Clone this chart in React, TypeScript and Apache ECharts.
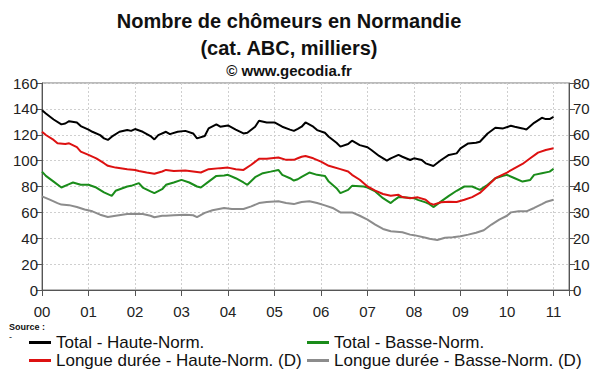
import React, { useEffect, useRef } from "react";
import * as echarts from "echarts";

// x = months since January 2000
const yearLabels = ["00", "01", "02", "03", "04", "05", "06", "07", "08", "09", "10", "11"];

const totalHaute: [number, number][] = [
  [0, 139], [1, 136.4], [3, 131.8], [5, 128], [6, 128.7], [7, 130.5], [9, 129.5], [10, 126.7], [12, 124],
  [13, 122.3], [15, 119.7], [16, 117.2], [17, 116], [18, 118.5], [20, 122.3], [22, 123.6], [23, 123],
  [24, 124.4], [26, 122.3], [28, 119], [29, 116.4], [30, 119.7], [32, 122.3], [33, 120.5], [35, 122.3],
  [37, 123], [39, 121], [40, 117.2], [42, 119], [43, 124.9], [45, 128], [46, 126.2], [48, 127.2], [50, 124],
  [52, 121], [53, 121.5], [55, 126.2], [56, 130.8], [58, 129.5], [60, 129.5], [62, 126.2], [64, 124],
  [65, 123], [66, 124.5], [67, 126.2], [68, 129.5], [70, 126.2], [71, 123.6], [73, 121.5], [74, 118.5],
  [76, 113.8], [77, 110.8], [79, 112.8], [80, 115.4], [82, 112], [84, 110.3], [85, 108.2], [87, 103.6],
  [89, 100], [90, 101.8], [92, 104.4], [93, 103], [95, 100.5], [96, 101.8], [98, 100.5], [99, 97.9],
  [101, 95.9], [103, 100.5], [105, 104.4], [107, 105.6], [108, 109.5], [110, 113.3], [112, 113.8],
  [113, 114.6], [115, 121], [117, 125.4], [119, 124.9], [121, 126.9], [122, 126.2], [124, 124.9],
  [125, 124], [127, 129.2], [129, 133.1], [130, 132.1], [131, 132.1], [132, 133.8],
];

const totalBasse: [number, number][] = [
  [0, 91.5], [1, 88.2], [3, 83.8], [5, 79.2], [7, 81.8], [8, 83.1], [10, 81.3], [12, 81.3], [14, 79.2],
  [16, 75.4], [18, 72.8], [19, 76.7], [22, 80], [23, 80.5], [25, 82.6], [26, 79.2], [28, 76.2], [29, 74.9],
  [31, 77.9], [32, 81.3], [34, 83.1], [36, 85.1], [38, 83.1], [40, 80], [41, 79.2], [43, 83.8], [45, 88.2],
  [47, 88.5], [48, 89], [50, 86.4], [52, 83.1], [53, 81.3], [55, 87.2], [57, 90.3], [59, 91.5], [61, 92.8],
  [62, 89], [64, 86.4], [65, 84.6], [66, 85.6], [67, 87.5], [69, 90.8], [71, 89], [73, 88.2], [74, 83.8],
  [76, 78.7], [77, 74.9], [79, 77.4], [80, 80.5], [83, 80], [84, 79.2], [86, 76.2], [88, 71], [90, 67.2],
  [91, 69.7], [92, 71.8], [94, 71.5], [96, 71], [97, 69.7], [99, 67.7], [100, 66.4], [101, 64.1],
  [103, 68.5], [105, 72.8], [107, 76.7], [109, 80], [111, 80], [113, 77.4], [115, 81.3], [117, 86.4],
  [119, 88.2], [120, 89], [122, 86.4], [124, 83.8], [126, 85.1], [127, 89], [129, 90.3], [131, 91.5],
  [132, 93.6],
];

// right axis (D)
const longueHaute: [number, number][] = [
  [0, 61.2], [1, 59.9], [3, 58], [4, 56.7], [6, 56.4], [7, 56.7], [9, 55.2], [10, 53.5], [12, 52.2],
  [14, 50.9], [16, 49], [17, 48], [19, 47.3], [22, 46.7], [24, 46.4], [25, 46], [27, 45.4], [29, 44.9],
  [31, 45.8], [32, 46.4], [34, 46], [37, 46.2], [39, 45.8], [41, 45.4], [43, 46.7], [46, 47.1], [48, 47.3],
  [50, 46.7], [52, 46.4], [54, 48.4], [56, 50.7], [58, 50.7], [61, 51.2], [63, 50.3], [65, 50.3],
  [66, 50.9], [67, 51.5], [68, 51.8], [70, 50.9], [72, 49.6], [74, 48], [77, 46.7], [79, 45.8], [80, 44.5],
  [82, 42.6], [84, 40], [86, 38.4], [88, 37.1], [90, 36.4], [92, 36.8], [93, 35.9], [95, 35.5], [97, 35.8],
  [99, 34.9], [100, 33.6], [101, 33], [103, 33.9], [105, 34.1], [107, 34], [109, 34.9], [111, 35.9],
  [113, 37.5], [115, 40.3], [117, 43.2], [120, 45.4], [122, 47.1], [124, 48.7], [126, 50.9], [128, 53.1],
  [130, 54.1], [132, 54.8],
];

const longueBasse: [number, number][] = [
  [0, 36.2], [2, 34.9], [4, 33.6], [5, 33], [7, 32.8], [9, 32.1], [11, 31.1], [13, 30.4], [15, 29.1],
  [17, 28.2], [19, 28.7], [22, 29.4], [24, 29.5], [26, 29.4], [28, 28.7], [29, 28.1], [31, 28.7],
  [32, 28.7], [34, 28.9], [37, 29.1], [39, 28.9], [40, 28.2], [42, 29.8], [44, 30.8], [47, 31.7],
  [49, 31.3], [52, 31.3], [54, 32.3], [56, 33.6], [58, 34], [61, 34.3], [63, 33.6], [65, 33.2], [66, 33.6],
  [67, 34], [69, 34.3], [71, 33.6], [73, 32.7], [75, 31.7], [77, 30], [80, 30], [82, 28.7], [84, 27.2],
  [86, 25.3], [88, 23.6], [90, 22.7], [93, 22.3], [95, 21.4], [96, 21.2], [99, 20.2], [100, 19.8],
  [102, 19.3], [104, 20.2], [106, 20.4], [108, 20.8], [110, 21.4], [112, 22.1], [114, 23.1], [116, 25.3],
  [118, 27.2], [120, 28.7], [121, 30], [123, 30.4], [125, 30.4], [127, 31.7], [129, 33.2], [130, 34],
  [132, 34.9],
];

const FONT = "'Liberation Sans', Arial, sans-serif";

export default function App() {
  const ref = useRef<HTMLDivElement>(null);
  useEffect(() => {
    if (!ref.current) return;
    const chart = echarts.init(ref.current, undefined, { renderer: "svg" });
    const legendBase = {
      padding: 0,
      icon: "rect",
      itemWidth: 22,
      itemHeight: 3,
      textStyle: { fontFamily: FONT, fontSize: 17, color: "#111" },
      selectedMode: false as const,
    };
    chart.setOption({
      animation: false,
      backgroundColor: "#ffffff",
      textStyle: { fontFamily: FONT },
      graphic: [
        { type: "text", x: 289, y: 21, style: { text: "Nombre de chômeurs en Normandie", font: `bold 20px ${FONT}`, fill: "#111", textAlign: "center", textVerticalAlign: "middle" } },
        { type: "text", x: 289, y: 48, style: { text: "(cat. ABC, milliers)", font: `bold 20px ${FONT}`, fill: "#111", textAlign: "center", textVerticalAlign: "middle" } },
        { type: "text", x: 289, y: 70, style: { text: "© www.gecodia.fr", font: `bold 15px ${FONT}`, fill: "#111", textAlign: "center", textVerticalAlign: "middle" } },
        { type: "text", x: 9, y: 327, style: { text: "Source :", font: `bold 9px ${FONT}`, fill: "#111", textVerticalAlign: "middle" } },
        { type: "text", x: 9, y: 337, style: { text: "-", font: `9px ${FONT}`, fill: "#111", textVerticalAlign: "middle" } },
      ],
      legend: [
        { ...legendBase, data: ["Total - Haute-Norm."], left: 29, top: 334 },
        { ...legendBase, data: ["Total - Basse-Norm."], left: 307, top: 334 },
        { ...legendBase, data: ["Longue durée - Haute-Norm. (D)"], left: 29, top: 352 },
        { ...legendBase, data: ["Longue durée - Basse-Norm. (D)"], left: 307, top: 352 },
      ],
      grid: {
        left: 42, right: 31, top: 83, bottom: 82,
        show: true, borderColor: "#777", borderWidth: 1, backgroundColor: "transparent",
      },
      xAxis: {
        type: "value", min: 0, max: 136, interval: 12,
        axisLine: { show: true, lineStyle: { color: "#555" } },
        axisTick: { show: true, length: 6, lineStyle: { color: "#555" } },
        axisLabel: {
          fontSize: 15, color: "#222", margin: 14,
          formatter: (v: number) => (v % 12 === 0 && v / 12 < yearLabels.length ? yearLabels[v / 12] : ""),
        },
        splitLine: { show: true, lineStyle: { color: "#cfcfcf", type: [2, 2] } },
      },
      yAxis: [
        {
          type: "value", min: 0, max: 160, interval: 20, position: "left",
          axisLine: { show: true, lineStyle: { color: "#555" } },
          axisTick: { show: true, length: 6, lineStyle: { color: "#555" } },
          axisLabel: { fontSize: 15, color: "#222", margin: 4 },
          splitLine: { show: true, lineStyle: { color: "#cfcfcf", type: [2, 2] } },
        },
        {
          type: "value", min: 0, max: 80, interval: 10, position: "right",
          axisLine: { show: true, lineStyle: { color: "#555" } },
          axisTick: { show: true, length: 6, lineStyle: { color: "#555" } },
          axisLabel: { fontSize: 15, color: "#222", margin: 4 },
          splitLine: { show: false },
        },
      ],
      series: [
        { name: "Total - Haute-Norm.", type: "line", yAxisIndex: 0, data: totalHaute, showSymbol: false, symbol: "none", lineStyle: { color: "#000000", width: 2 }, itemStyle: { color: "#000000" } },
        { name: "Total - Basse-Norm.", type: "line", yAxisIndex: 0, data: totalBasse, showSymbol: false, symbol: "none", lineStyle: { color: "#1a8c1a", width: 2 }, itemStyle: { color: "#1a8c1a" } },
        { name: "Longue durée - Haute-Norm. (D)", type: "line", yAxisIndex: 1, data: longueHaute, showSymbol: false, symbol: "none", lineStyle: { color: "#dd1111", width: 2 }, itemStyle: { color: "#dd1111" } },
        { name: "Longue durée - Basse-Norm. (D)", type: "line", yAxisIndex: 1, data: longueBasse, showSymbol: false, symbol: "none", lineStyle: { color: "#8c8c8c", width: 2 }, itemStyle: { color: "#8c8c8c" } },
      ],
    });
    return () => chart.dispose();
  }, []);
  return (
    <div
      ref={ref}
      style={{ position: "absolute", left: 0, top: 0, width: 600, height: 372, background: "#fff" }}
    />
  );
}
